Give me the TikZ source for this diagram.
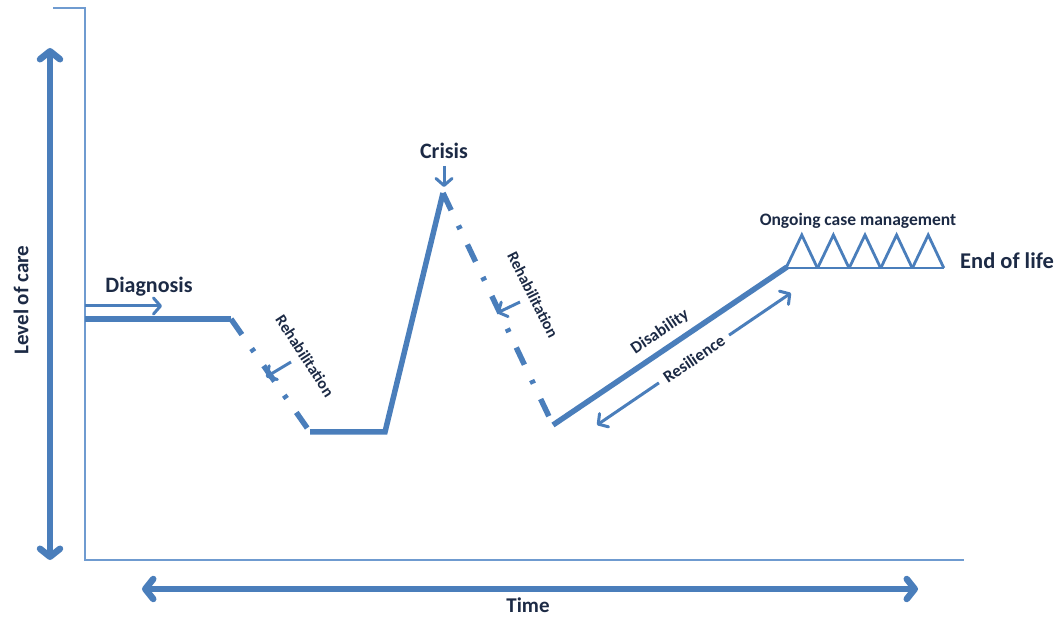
\documentclass[tikz,border=0pt]{standalone}
\usepackage{fontspec}
\setmainfont{Carlito}
\usetikzlibrary{arrows.meta}
\definecolor{lc}{HTML}{4A7EBB}
\definecolor{axc}{HTML}{6F9BD0}
\definecolor{tc}{HTML}{1C2A45}
\begin{document}
\begin{tikzpicture}[x=1pt,y=-1pt,
  thickln/.style={draw=lc,line width=5.5pt},
  dashdot/.style={draw=lc,line width=5.5pt,dash pattern=on 19pt off 17pt on 4pt off 17pt},
  thinarrow/.style={draw=lc,line width=3pt,-{Straight Barb[length=7pt,width=16pt,round]}},
  twoarrow/.style={draw=lc,line width=3pt,{Straight Barb[length=7pt,width=16pt,round]}-{Straight Barb[length=7pt,width=16pt,round]}},
  bigarrow/.style={draw=lc,line width=6.5pt,{Straight Barb[length=8pt,width=20pt,round]}-{Straight Barb[length=8pt,width=20pt,round]}},
  axisln/.style={draw=axc,line width=1.8pt},
  tri/.style={draw=lc,line width=2.8pt,line join=miter},
  lbl/.style={text=tc,font=\bfseries,inner sep=1pt}]
\useasboundingbox (0,0) rectangle (1061,617);
% axes
\coordinate (at) at (53,8);
\coordinate (ac) at (85,8);
\coordinate (ao) at (85,560);
\coordinate (ae) at (964,560);
\draw[axisln] (at) -- (ac) -- (ao) -- (ae);
% big arrows
\coordinate (lvt) at (50,48);
\coordinate (lvb) at (50,560);
\draw[bigarrow] (lvt) -- (lvb);
\coordinate (tl) at (142,589);
\coordinate (tr) at (918,589);
\draw[bigarrow] (tl) -- (tr);
\node[lbl,font=\bfseries\fontsize{21}{24}\selectfont,rotate=90] (lvl) at (21,300) {Level of care};
\node[lbl,font=\bfseries\fontsize{21}{24}\selectfont] (time) at (528,605) {Time};
% main path
\coordinate (p0) at (85,319);
\coordinate (p1) at (231,319);
\coordinate (p2) at (310,432);
\coordinate (p3) at (385,432);
\coordinate (p4) at (443,193);
\coordinate (p5) at (553,425);
\coordinate (p6) at (787,267);
\draw[thickln] (p0) -- (p1);
\draw[dashdot] (p1) -- (p2);
\draw[thickln] (p2) -- (p3) -- (p4);
\draw[dashdot] (p4) -- (p5);
\draw[thickln] (p5) -- (p6);
% diagnosis
\coordinate (d0) at (85,306);
\coordinate (d1) at (162,306);
\draw[thinarrow] (d0) -- (d1);
\node[lbl,font=\bfseries\fontsize{22}{24}\selectfont] (diag) at (149,287) {Diagnosis};
% crisis
\node[lbl,font=\bfseries\fontsize{22}{24}\selectfont] (crisis) at (444,151) {Crisis};
\coordinate (c0) at (444,166);
\coordinate (c1) at (444,187);
\draw[thinarrow] (c0) -- (c1);
% rehabilitation 1
\coordinate (r1s) at (291,362);
\coordinate (r1e) at (266,377);
\draw[thinarrow] (r1s) -- (r1e);
\node[lbl,font=\bfseries\fontsize{16}{18}\selectfont,rotate=-57] (reh1) at (305,356) {Rehabilitation};
% rehabilitation 2
\coordinate (r2s) at (520,302);
\coordinate (r2e) at (497,313);
\draw[thinarrow] (r2s) -- (r2e);
\node[lbl,font=\bfseries\fontsize{16}{18}\selectfont,rotate=-63] (reh2) at (533,295) {Rehabilitation};
% disability
\node[lbl,font=\bfseries\fontsize{17}{18}\selectfont,rotate=34] (dis) at (660,332) {Disability};
% resilience
\coordinate (s0) at (597,425);
\coordinate (s1) at (791,293);
\draw[twoarrow] (s0) -- node[lbl,font=\bfseries\fontsize{17}{18}\selectfont,sloped,fill=white,inner xsep=7pt] (res) {Resilience} (s1);
% triangles
\coordinate (b0) at (786,268);
\coordinate (b5) at (944,268);
\draw[tri] (b0) -- (b5);
\foreach \i in {0,...,4} {
  \draw[tri] (786+31.6*\i,268) -- (801.8+31.6*\i,235) -- (817.4+31.6*\i,268);
}
\node[lbl,font=\bfseries\fontsize{17.5}{20}\selectfont] (ocm) at (858,221) {Ongoing case management};
\node[lbl,font=\bfseries\fontsize{22.5}{24}\selectfont] (eol) at (1007,261) {End of life};
\end{tikzpicture}
\end{document}
